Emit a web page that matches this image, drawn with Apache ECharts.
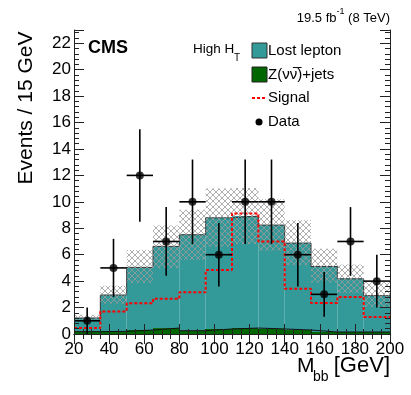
<!DOCTYPE html>
<html>
<head>
<meta charset="utf-8">
<script src="https://cdn.jsdelivr.net/npm/echarts@6/dist/echarts.min.js"></script>
<style>
  html, body { margin: 0; padding: 0; background: #fff; }
  #main { width: 411px; height: 395px; }
</style>
</head>
<body>
<div id="main"></div>
<script>
// 15 GeV bins from 20 to 200
var binStart = [20, 35, 50, 65, 80, 95, 110, 125, 140, 155, 170, 185];
var binWidth = 15;

var zJets      = [0.18, 0.20, 0.30, 0.45, 0.25, 0.38, 0.45, 0.38, 0.30, 0.15, 0.15, 0.15];
var lostLepton = [1.03, 2.75, 4.74, 6.18, 7.26, 8.41, 8.47, 7.86, 6.58, 4.96, 4.03, 2.75];
var bandLo     = [1.00, 2.30, 3.85, 5.00, 5.60, 6.60, 6.80, 6.30, 5.20, 3.90, 3.10, 2.05];
var bandHi     = [1.45, 3.65, 6.35, 8.20, 9.40, 11.0, 11.05, 10.2, 8.60, 6.45, 5.25, 4.00];
var signal     = [0.45, 1.71, 2.32, 2.67, 3.15, 4.84, 9.12, 7.00, 3.43, 2.34, 2.80, 1.28];
var dataCounts = [1, 5, 12, 7, 10, 6, 10, 10, 6, 3, 7, 4];
var dataErr    = [1.0, 2.2, 3.5, 2.6, 3.2, 2.4, 3.2, 3.2, 2.4, 1.7, 2.6, 2.0];

var xTicks = [20, 40, 60, 80, 100, 120, 140, 160, 180, 200];
var yTicks = [0, 2, 4, 6, 8, 10, 12, 14, 16, 18, 20, 22];

// cross hatch for the uncertainty band
var hatch = document.createElement('canvas');
hatch.width = 6; hatch.height = 6;
var hc = hatch.getContext('2d');
hc.strokeStyle = '#9a9a9a';
hc.lineWidth = 0.8;
hc.beginPath();
hc.moveTo(0, 0); hc.lineTo(6, 6);
hc.moveTo(6, 0); hc.lineTo(0, 6);
hc.stroke();

var total = lostLepton.map(function (v, i) { return v + zJets[i]; });

function boxes(lo, hi) {
    return binStart.map(function (x, i) { return [x, x + binWidth, lo[i], hi[i]]; });
}
function steps(vals) {
    var pts = binStart.map(function (x, i) { return [x, vals[i]]; });
    pts.push([binStart[binStart.length - 1] + binWidth, vals[vals.length - 1]]);
    return pts;
}
var zeros = binStart.map(function () { return 0; });

function rectItem(fill) {
    return function (params, api) {
        var p0 = api.coord([api.value(0), api.value(3)]);
        var p1 = api.coord([api.value(1), api.value(2)]);
        return {
            type: 'rect',
            shape: { x: p0[0], y: p0[1], width: p1[0] - p0[0], height: p1[1] - p0[1] },
            style: { fill: fill }
        };
    };
}

var font = 'Liberation Sans';

var option = {
    animation: false,
    textStyle: { fontFamily: font },
    grid: { left: 74, right: 21, top: 30, bottom: 61, containLabel: false },
    xAxis: [
        {
            type: 'value', min: 20, max: 200, interval: 20, z: 10,
            axisLine: { lineStyle: { color: '#222', width: 1 } },
            axisTick: { inside: true, length: 10, lineStyle: { color: '#222' } },
            minorTick: { show: true, splitNumber: 4, length: 5, lineStyle: { color: '#222' } },
            splitLine: { show: false },
            axisLabel: {
                fontSize: 17, color: '#000', margin: 7,
                formatter: function (v) { return xTicks.indexOf(v) >= 0 ? String(v) : ''; }
            }
        },
        {
            type: 'value', min: 20, max: 200, interval: 20, position: 'top', z: 10,
            axisLine: { lineStyle: { color: '#222', width: 1 } },
            axisTick: { inside: true, length: 10, lineStyle: { color: '#222' } },
            minorTick: { show: true, splitNumber: 4, length: 5, lineStyle: { color: '#222' } },
            splitLine: { show: false },
            axisLabel: { show: false }
        }
    ],
    yAxis: [
        {
            type: 'value', min: 0, max: 23, interval: 2, z: 10,
            axisLine: { show: true, lineStyle: { color: '#222', width: 1 } },
            axisTick: { show: true, inside: true, length: 10, lineStyle: { color: '#222' } },
            minorTick: { show: true, splitNumber: 5, length: 5, lineStyle: { color: '#222' } },
            splitLine: { show: false },
            axisLabel: {
                fontSize: 17, color: '#000', margin: 3, showMaxLabel: false,
                formatter: function (v) { return yTicks.indexOf(v) >= 0 ? String(v) : ''; }
            }
        },
        {
            type: 'value', min: 0, max: 23, interval: 2, position: 'right', z: 10,
            axisLine: { show: true, lineStyle: { color: '#222', width: 1 } },
            axisTick: { show: true, inside: true, length: 10, lineStyle: { color: '#222' } },
            minorTick: { show: true, splitNumber: 5, length: 5, lineStyle: { color: '#222' } },
            splitLine: { show: false },
            axisLabel: { show: false }
        }
    ],
    series: [
        {
            name: 'Z(νν)+jets', type: 'custom', z: 2,
            renderItem: rectItem('#006600'),
            encode: { x: [0, 1], y: [2, 3] },
            data: boxes(zeros, zJets)
        },
        {
            name: 'Lost lepton', type: 'custom', z: 2,
            renderItem: rectItem('#339999'),
            encode: { x: [0, 1], y: [2, 3] },
            data: boxes(zJets, total)
        },
        {
            type: 'line', step: 'end', z: 3, symbol: 'none',
            lineStyle: { color: '#333', width: 1 },
            data: steps(total)
        },
        {
            type: 'line', step: 'end', z: 3, symbol: 'none',
            lineStyle: { color: '#111', width: 1 },
            data: steps(zJets)
        },
        {
            name: 'Uncertainty', type: 'custom', z: 4,
            renderItem: rectItem({ image: hatch, repeat: 'repeat' }),
            encode: { x: [0, 1], y: [2, 3] },
            data: boxes(bandLo, bandHi)
        },
        {
            name: 'Signal', type: 'line', step: 'end', z: 5, symbol: 'none',
            lineStyle: { color: '#ff0000', width: 2, type: [3, 2] },
            data: steps(signal)
        },
        {
            name: 'Data errors', type: 'custom', z: 6,
            renderItem: function (params, api) {
                var x = api.value(0), y = api.value(1), e = api.value(2);
                var top = api.coord([x, y + e]);
                var bot = api.coord([x, Math.max(0, y - e)]);
                var l = api.coord([x - binWidth / 2, y]);
                var r = api.coord([x + binWidth / 2, y]);
                var st = { stroke: '#000', lineWidth: 1.6 };
                return {
                    type: 'group',
                    children: [
                        { type: 'line', shape: { x1: top[0], y1: top[1], x2: bot[0], y2: bot[1] }, style: st },
                        { type: 'line', shape: { x1: l[0], y1: l[1], x2: r[0], y2: r[1] }, style: st }
                    ]
                };
            },
            encode: { x: 0, y: 1 },
            data: binStart.map(function (x, i) { return [x + binWidth / 2, dataCounts[i], dataErr[i]]; })
        },
        {
            name: 'Data', type: 'scatter', z: 7, symbol: 'circle', symbolSize: 8,
            itemStyle: { color: '#000' },
            data: binStart.map(function (x, i) { return [x + binWidth / 2, dataCounts[i]]; })
        }
    ],
    graphic: [
        // axis titles
        { type: 'text', x: 26, y: 108, rotation: Math.PI / 2,
          style: { text: 'Events / 15 GeV', fontFamily: font, fontSize: 21, fill: '#000', align: 'center', verticalAlign: 'middle' } },
        { type: 'text', x: 297, y: 366,
          style: { text: 'M', fontFamily: font, fontSize: 21, fill: '#000', align: 'left', verticalAlign: 'middle' } },
        { type: 'text', x: 313, y: 377,
          style: { text: 'bb', fontFamily: font, fontSize: 14, fill: '#000', align: 'left', verticalAlign: 'middle' } },
        { type: 'text', x: 390, y: 366,
          style: { text: '[GeV]', fontFamily: font, fontSize: 22, fill: '#000', align: 'right', verticalAlign: 'middle' } },
        // header
        { type: 'text', x: 390, y: 16,
          style: {
              text: '{n|19.5 fb}{s|-1}{n| (8 TeV)}', fontFamily: font, align: 'right', verticalAlign: 'middle',
              rich: {
                  n: { fontFamily: font, fontSize: 13, fill: '#000', lineHeight: 18, verticalAlign: 'bottom' },
                  s: { fontFamily: font, fontSize: 9, fill: '#000', lineHeight: 18, verticalAlign: 'top' }
              }
          } },
        { type: 'text', x: 88, y: 48,
          style: { text: 'CMS', fontFamily: font, fontSize: 18, fontWeight: 'bold', fill: '#000', align: 'left', verticalAlign: 'middle' } },
        { type: 'text', x: 193, y: 49,
          style: { text: 'High H', fontFamily: font, fontSize: 13.5, fill: '#000', align: 'left', verticalAlign: 'middle' } },
        { type: 'text', x: 234, y: 58,
          style: { text: 'T', fontFamily: font, fontSize: 10, fill: '#000', align: 'left', verticalAlign: 'middle' } },
        // legend
        { type: 'rect', shape: { x: 252, y: 43, width: 15, height: 15 }, style: { fill: '#339999', stroke: '#333', lineWidth: 1 } },
        { type: 'text', x: 268, y: 51,
          style: { text: 'Lost lepton', fontFamily: font, fontSize: 15, fill: '#000', align: 'left', verticalAlign: 'middle' } },
        { type: 'rect', shape: { x: 252, y: 67, width: 15, height: 15 }, style: { fill: '#006600', stroke: '#222', lineWidth: 1 } },
        { type: 'text', x: 268, y: 75,
          style: { text: 'Z(νν\u0305)+jets', fontFamily: font, fontSize: 15, fill: '#000', align: 'left', verticalAlign: 'middle' } },
        { type: 'line', shape: { x1: 252, y1: 98, x2: 267, y2: 98 }, style: { stroke: '#ff0000', lineWidth: 2, lineDash: [3, 2] } },
        { type: 'text', x: 268, y: 98,
          style: { text: 'Signal', fontFamily: font, fontSize: 15, fill: '#000', align: 'left', verticalAlign: 'middle' } },
        { type: 'circle', shape: { cx: 259, cy: 122, r: 3.5 }, style: { fill: '#000' } },
        { type: 'text', x: 268, y: 122,
          style: { text: 'Data', fontFamily: font, fontSize: 15, fill: '#000', align: 'left', verticalAlign: 'middle' } }
    ]
};

var myChart = echarts.init(document.getElementById('main'), null, { renderer: 'canvas' });
myChart.setOption(option);
</script>
</body>
</html>
